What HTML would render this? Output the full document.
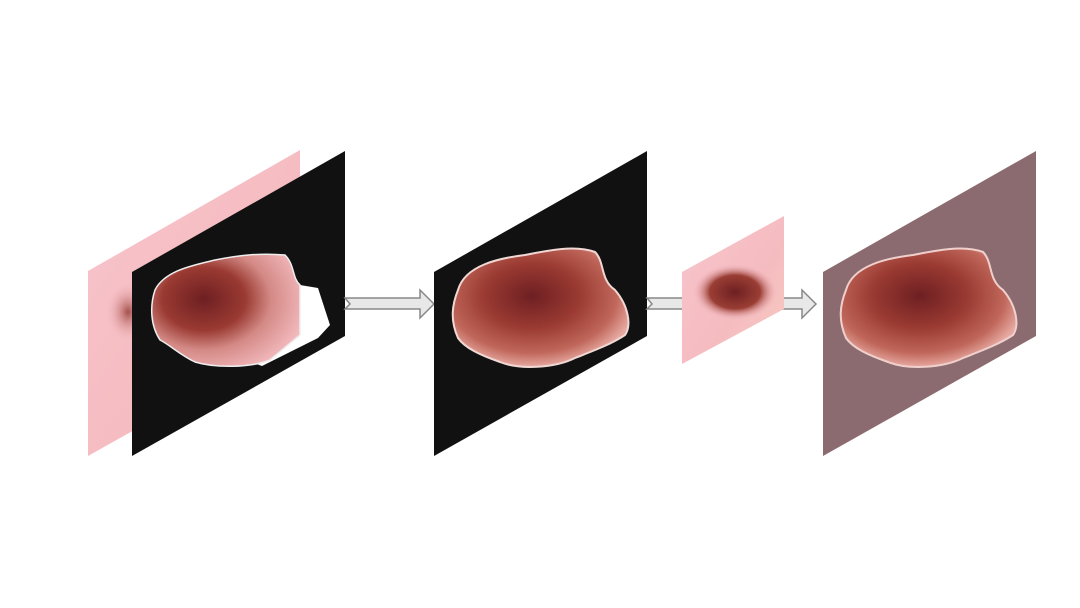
<!DOCTYPE html>
<html><head><meta charset="utf-8"><style>html,body{margin:0;background:#fff}svg{display:block}</style></head>
<body>
<svg width="1080" height="608" viewBox="0 0 1080 608">
<defs>
<linearGradient id="skin" x1="0" y1="0" x2="1" y2="1"><stop offset="0" stop-color="#f7c4cc"/><stop offset="0.6" stop-color="#f5bcc0"/><stop offset="1" stop-color="#f8cbbf"/></linearGradient>
<radialGradient id="les" cx="0.45" cy="0.4" r="0.6"><stop offset="0" stop-color="#6e1f22"/><stop offset="0.45" stop-color="#9a3a32"/><stop offset="0.8" stop-color="#c0665a"/><stop offset="1" stop-color="#e6a8a0"/></radialGradient>
<radialGradient id="les1" cx="0.35" cy="0.4" r="0.7"><stop offset="0" stop-color="#6e1f22"/><stop offset="0.4" stop-color="#9a3a32"/><stop offset="0.65" stop-color="#d48a86"/><stop offset="1" stop-color="#f2b8bc"/></radialGradient>
<radialGradient id="small" cx="0.5" cy="0.5" r="0.5"><stop offset="0" stop-color="#6e1f22"/><stop offset="0.6" stop-color="#9a3e34"/><stop offset="1" stop-color="#f2b5bd" stop-opacity="0"/></radialGradient>
<radialGradient id="faint" cx="0.5" cy="0.5" r="0.5"><stop offset="0" stop-color="#a4504a"/><stop offset="1" stop-color="#f5bcc0" stop-opacity="0"/></radialGradient>
</defs>
<g>
<polygon points="88,271 300,150 300,337 88,456" fill="url(#skin)"/>
<ellipse cx="128" cy="312" rx="22" ry="30" fill="url(#faint)"/>
</g>
<g>
<polygon points="132,272 345,151 345,336 132,456" fill="#111"/>
<path d="M300,285 L318,288 L330,325 L318,338 L290,352 L262,366 L245,360 L285,345 L300,335 Z" fill="#fff"/>
<path d="M155,290 C165,270 195,265 215,260 C240,255 260,253 285,255 C295,265 292,278 300,285 L300,335 L270,360 C250,368 215,368 195,362 C180,355 170,345 160,340 C150,325 150,305 155,290 Z" fill="url(#les1)" stroke="#eee" stroke-width="1.5"/>
</g>
<g>
<polygon points="345,298 420,298 420,290 434,304 420,318 420,309 345,309 350,304" fill="#e8e8e8" stroke="#888" stroke-width="1.5"/>
</g>
<g>
<polygon points="434,272 647,151 647,336 434,456" fill="#111"/>
<path d="M458,290 C465,265 500,258 525,255 C550,250 575,245 595,252 C605,262 600,280 615,290 C628,305 632,325 625,335 C610,345 590,352 575,358 C555,368 520,370 500,362 C480,355 465,348 458,338 C450,320 452,305 458,290 Z" fill="url(#les)" stroke="#f0d8d4" stroke-width="2"/>
</g>
<g>
<polygon points="647,298 802,298 802,290 816,304 802,318 802,309 647,309 652,304" fill="#e8e8e8" stroke="#888" stroke-width="1.5"/>
</g>
<g>
<polygon points="682,272 784,216 784,309 682,364" fill="url(#skin)"/>
<ellipse cx="735" cy="292" rx="42" ry="28" fill="url(#small)"/>
</g>
<g>
<polygon points="823,272 1036,151 1036,336 823,456" fill="#8c6b70"/>
<path d="M846,290 C853,265 888,258 913,255 C938,250 963,245 983,252 C993,262 988,280 1003,290 C1016,305 1020,325 1013,335 C998,345 978,352 963,358 C943,368 908,370 888,362 C868,355 853,348 846,338 C838,320 840,305 846,290 Z" fill="url(#les)" stroke="#f0d0cc" stroke-width="2"/>
</g>
</svg>
</body></html>
